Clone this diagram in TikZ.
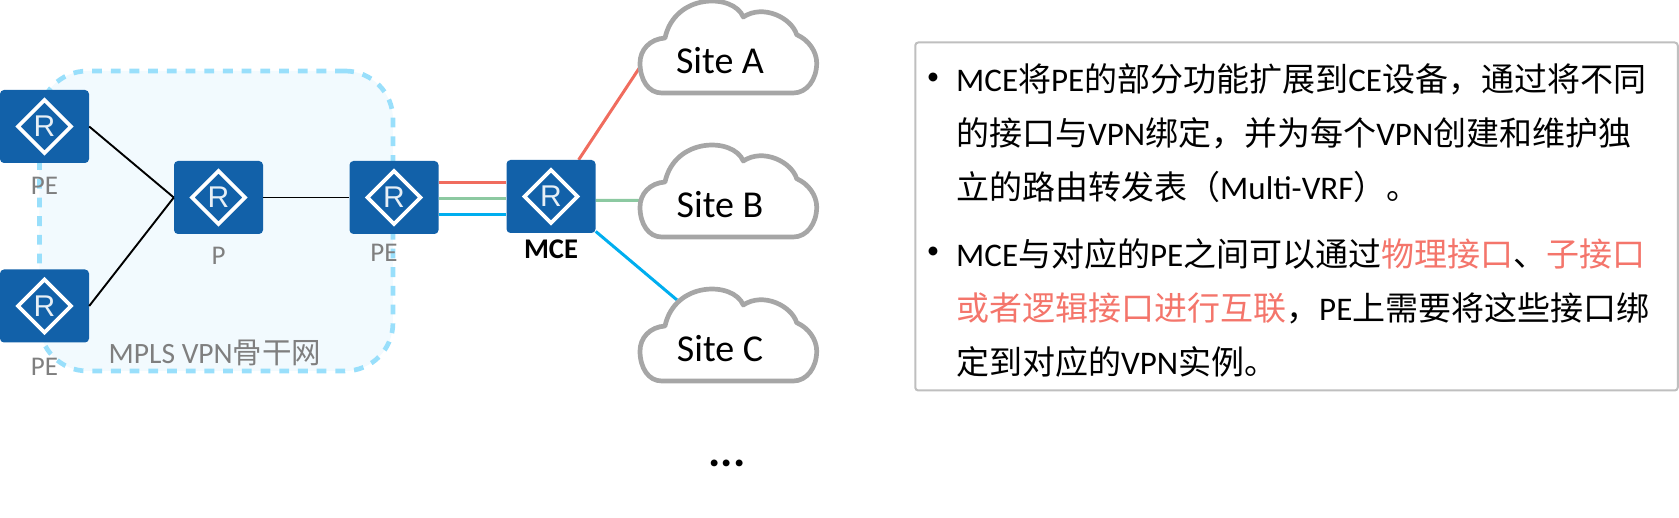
\documentclass[tikz,border=0pt]{standalone}
\usepackage{fontspec}
\setmainfont{Carlito}
\newfontfamily\cjk{Noto Sans CJK SC}
\newfontfamily\rfont{Liberation Sans}
\newcommand{\zh}[1]{{\cjk #1}}
\newcommand{\fsize}[2]{\fontsize{#1pt}{#2pt}\selectfont}
\usetikzlibrary{positioning,backgrounds}
\definecolor{routerblue}{HTML}{1261A9}
\definecolor{backfill}{HTML}{F2FAFE}
\definecolor{backline}{HTML}{99DFFB}
\definecolor{cloudgray}{HTML}{A6A6A6}
\definecolor{boxgray}{HTML}{BFBFBF}
\definecolor{labelgray}{HTML}{7F7F7F}
\definecolor{linkred}{HTML}{F06C5E}
\definecolor{linkgreen}{HTML}{8CC9A1}
\definecolor{linkblue}{HTML}{00AEEF}
\definecolor{textred}{HTML}{F4756B}
\tikzset{
  router/.style={rectangle, rounded corners=4pt, fill=routerblue, inner sep=0pt,
    minimum width=89pt, minimum height=73pt, text=white!90!routerblue,
    font=\rfont\fsize{30}{30},
    path picture={\draw[white, sharp corners, line width=3.6pt]
      ([xshift=26.5pt]path picture bounding box.center)
      -- ([yshift=26.5pt]path picture bounding box.center)
      -- ([xshift=-26.5pt]path picture bounding box.center)
      -- ([yshift=-26.5pt]path picture bounding box.center) -- cycle;}},
  devlabel/.style={inner sep=0pt, text height=18pt, text depth=0pt, text=labelgray, font=\fsize{27}{27}},
  sitelabel/.style={inner sep=0pt, text height=24.5pt, text depth=0pt, font=\fsize{38}{38}},
  backbone/.style={rectangle, rounded corners=48pt, draw=backline, fill=backfill, line width=4.7pt,
    dash pattern=on 9.8pt off 8.9pt, minimum width=353.5pt, minimum height=300pt},
  infobox/.style={rectangle, rounded corners=3pt, draw=boxgray, line width=2pt, fill=white,
    minimum width=762.5pt, minimum height=348pt},
  itemtext/.style={inner sep=0pt, anchor=north west, align=left, font=\fsize{33}{54}},
  bulletmark/.style={inner sep=0pt, font=\fsize{25}{25}},
  cloudline/.style={draw=cloudgray, fill=white, line width=4.7pt, line join=round},
  link/.style={line width=1.9pt, black},
  redlink/.style={line width=3pt, linkred},
  greenlink/.style={line width=3pt, linkgreen},
  bluelink/.style={line width=3pt, linkblue}
}
\newcommand{\sitecloud}[1]{
  \draw[cloudline, shift={([yshift=2.5pt]#1.center)}] (-58.3pt,-34pt) -- (73.3pt,-34pt)
    .. controls (86.7pt,-34pt) and (96.7pt,-20.7pt) .. (96.7pt,-4pt)
    .. controls (96.7pt,7.7pt) and (88.3pt,19.3pt) .. (76.7pt,24.3pt)
    .. controls (71.7pt,41pt) and (43.3pt,55.3pt) .. (23.3pt,42pt)
    .. controls (13.3pt,66pt) and (-45.3pt,66pt) .. (-55pt,21pt)
    .. controls (-70pt,20pt) and (-80pt,9.3pt) .. (-80pt,-4pt)
    .. controls (-80pt,-20.7pt) and (-71.7pt,-34pt) .. (-58.3pt,-34pt) -- cycle;
}
\begin{document}
\begin{tikzpicture}[on grid, node distance=60pt]
  \useasboundingbox (0pt,0pt) rectangle (1679pt,-518pt);

  \node[backbone] (mpls) at (216.2pt,-221pt) {};

  \node[router] (pe1) at (44.5pt,-126.5pt) {R};
  \node[router] (pe2) [below=179.5pt of pe1] {R};
  \node[router] (p) [below right=71pt and 174pt of pe1] {R};
  \node[router] (pe3) [right=175.5pt of p] {R};
  \node[router] (mce) [right=157pt of pe3, yshift=1pt] {R};

  \node[devlabel] (pe1text) [below=59.5pt of pe1] {PE};
  \node[devlabel] (pe2text) [below=61pt of pe2] {PE};
  \node[devlabel] (ptext) [below=58.5pt of p] {P};
  \node[devlabel] (pe3text) [below=55.5pt of pe3, xshift=-10pt] {PE};
  \node[inner sep=0pt, text height=18pt, text depth=0pt, font=\fsize{28.5}{28.5}\bfseries] (mcetext) [below=53.5pt of mce] {MCE};
  \node[devlabel, font=\fsize{29.5}{29.5}] (mplstext) at (215pt,-355pt) {MPLS VPN\zh{骨干网}};

  \node[sitelabel] (sitea) at (720pt,-61.5pt) {Site A};
  \node[sitelabel] (siteb) [below=144pt of sitea] {Site B};
  \node[sitelabel] (sitec) [below=144pt of siteb] {Site C};

  \begin{scope}[on background layer]
    \draw[redlink] (mce.53.5) -- ([shift={(-80pt,-5.5pt)}]sitea.center);
    \draw[greenlink] (mce.-5.2) -- ([shift={(-80pt,5pt)}]siteb.center);
    \draw[bluelink] (mce.-38.2) -- ([shift={(-43pt,49.5pt)}]sitec.center);
    \sitecloud{sitea}
    \sitecloud{siteb}
    \sitecloud{sitec}
  \end{scope}

  \draw[link] (pe1.east) -- (p.west);
  \draw[link] (pe2.east) -- (p.west);
  \draw[link] (p) -- (pe3);
  \draw[redlink] ([yshift=14.5pt]pe3.east) -- ([yshift=13.5pt]mce.west);
  \draw[greenlink] ([yshift=-1pt]pe3.east) -- ([yshift=-2pt]mce.west);
  \draw[bluelink] ([yshift=-17pt]pe3.east) -- ([yshift=-18pt]mce.west);

  \node[font=\fsize{46}{46}\bfseries, inner sep=0pt, anchor=base] (more) at (727pt,-466.5pt) {...};

  \node[infobox] (info) at (1296.5pt,-216.5pt) {};
  \node[bulletmark] (bullet1) at (933pt,-79pt) {\textbullet};
  \node[bulletmark] (bullet2) at (933pt,-253pt) {\textbullet};
  \node[itemtext] (item1) at (956pt,-63pt) {MCE\zh{将}PE\zh{的部分功能扩展到}CE\zh{设备，通过将不同}\\
    \zh{的接口与}VPN\zh{绑定，并为每个}VPN\zh{创建和维护独}\\
    \zh{立的路由转发表（}Multi-VRF\zh{）。}};
  \node[itemtext] (item2) at (956pt,-238.5pt) {MCE\zh{与对应的}PE\zh{之间可以通过}\textcolor{textred}{\zh{物理接口}}\zh{、}\textcolor{textred}{\zh{子接口}}\\
    \textcolor{textred}{\zh{或者逻辑接口进行互联}}\zh{，}PE\zh{上需要将这些接口绑}\\
    \zh{定到对应的}VPN\zh{实例。}};
\end{tikzpicture}
\end{document}
